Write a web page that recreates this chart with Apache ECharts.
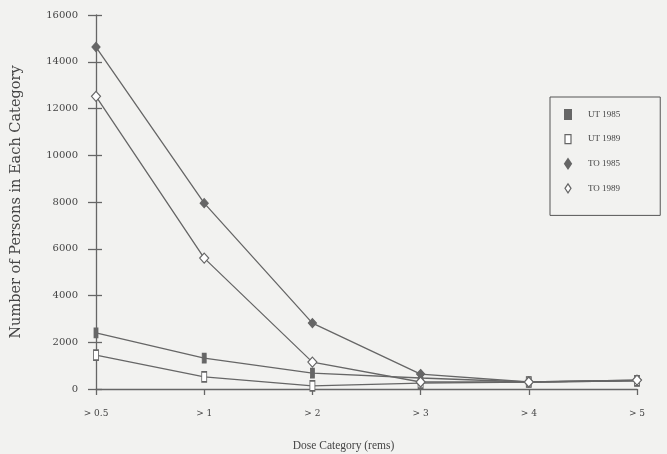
<!DOCTYPE html>
<html>
<head>
<meta charset="utf-8">
<script src="https://cdn.jsdelivr.net/npm/echarts@6/dist/echarts.min.js"></script>
<style>
  html, body { margin: 0; padding: 0; background: #f2f2f0; }
  #main { width: 667px; height: 454px; }
</style>
</head>
<body>
<div id="main"></div>
<script>
// dose categories (rems)
var categories = ['> 0.5', '> 1', '> 2', '> 3', '> 4', '> 5'];

// number of persons in each category
var ut1985 = [2400, 1320, 680, 470, 300, 350];
var ut1989 = [1450, 520, 130, 250, 300, 350];
var to1985 = [14630, 7950, 2820, 640, 300, 380];
var to1989 = [12520, 5600, 1150, 300, 300, 380];

var ink = '#666';
var txt = '#444';
var serif = '"Liberation Serif", "DejaVu Serif", serif';
var wide = '"DejaVu Serif", serif';

var myChart = echarts.init(document.getElementById('main'));

function line(name, data, symbol, size, fill) {
    return {
        name: name,
        type: 'line',
        data: data,
        symbol: symbol,
        symbolSize: size,
        showAllSymbol: true,
        lineStyle: { color: ink, width: 1.3 },
        itemStyle: { color: fill, borderColor: ink, borderWidth: 1.2 },
        z: 3
    };
}

var option = {
    backgroundColor: '#f2f2f0',
    animation: false,
    textStyle: { fontFamily: serif, color: txt },
    grid: { left: 96, right: 30, top: 15, bottom: 65, outerBoundsMode: 'none', containLabel: false },
    legend: {
        orient: 'vertical',
        left: 550,
        top: 97,
        padding: [12, 40, 22, 14],
        itemWidth: 6,
        itemHeight: 9,
        itemGap: 14,
        borderColor: '#555',
        borderWidth: 1,
        textStyle: { fontFamily: serif, fontSize: 9, color: txt, padding: [0, 0, 0, 12] },
        data: [
            { name: 'UT 1985', icon: 'rect', itemStyle: { color: ink } },
            { name: 'UT 1989', icon: 'rect', itemStyle: { color: '#fff', borderColor: ink, borderWidth: 1.2 } },
            { name: 'TO 1985', icon: 'diamond', itemStyle: { color: ink } },
            { name: 'TO 1989', icon: 'diamond', itemStyle: { color: '#fff', borderColor: ink, borderWidth: 1.2 } }
        ]
    },
    xAxis: {
        type: 'category',
        data: categories,
        boundaryGap: false,
        name: 'Dose Category (rems)',
        nameLocation: 'middle',
        nameGap: 51,
        nameTextStyle: { fontFamily: serif, fontSize: 11.5, color: txt, padding: [0, 46, 0, 0] },
        axisLine: { lineStyle: { color: ink, width: 1.3 } },
        axisTick: { show: true, length: 6, lineStyle: { color: ink, width: 1.3 } },
        axisLabel: { margin: 20, fontFamily: wide, fontSize: 9, color: txt },
        splitLine: { show: false }
    },
    yAxis: [
        {
            type: 'value',
            min: 0,
            max: 16000,
            interval: 2000,
            name: 'Number of Persons in Each Category',
            nameLocation: 'middle',
            nameGap: 72,
            nameTextStyle: { fontFamily: wide, fontSize: 14.5, color: txt },
            axisLine: { show: true, lineStyle: { color: ink, width: 1.3 } },
            axisTick: { show: true, length: 8, lineStyle: { color: ink, width: 1.3 } },
            axisLabel: {
                margin: 18, fontFamily: wide, fontSize: 10, color: txt,
                formatter: function (v) { return String(v); }
            },
            splitLine: { show: false }
        },
        {
            type: 'value',
            min: 0,
            max: 16000,
            interval: 2000,
            position: 'left',
            axisLine: { show: false },
            axisTick: { show: true, inside: true, length: 6, lineStyle: { color: ink, width: 1.3 } },
            axisLabel: { show: false },
            splitLine: { show: false }
        }
    ],
    series: [
        line('UT 1985', ut1985, 'rect', [4, 9], ink),
        line('UT 1989', ut1989, 'rect', [5, 10], '#fff'),
        line('TO 1985', to1985, 'diamond', [8, 9], ink),
        line('TO 1989', to1989, 'diamond', [9, 10], '#fff')
    ]
};

myChart.setOption(option);
</script>
</body>
</html>
